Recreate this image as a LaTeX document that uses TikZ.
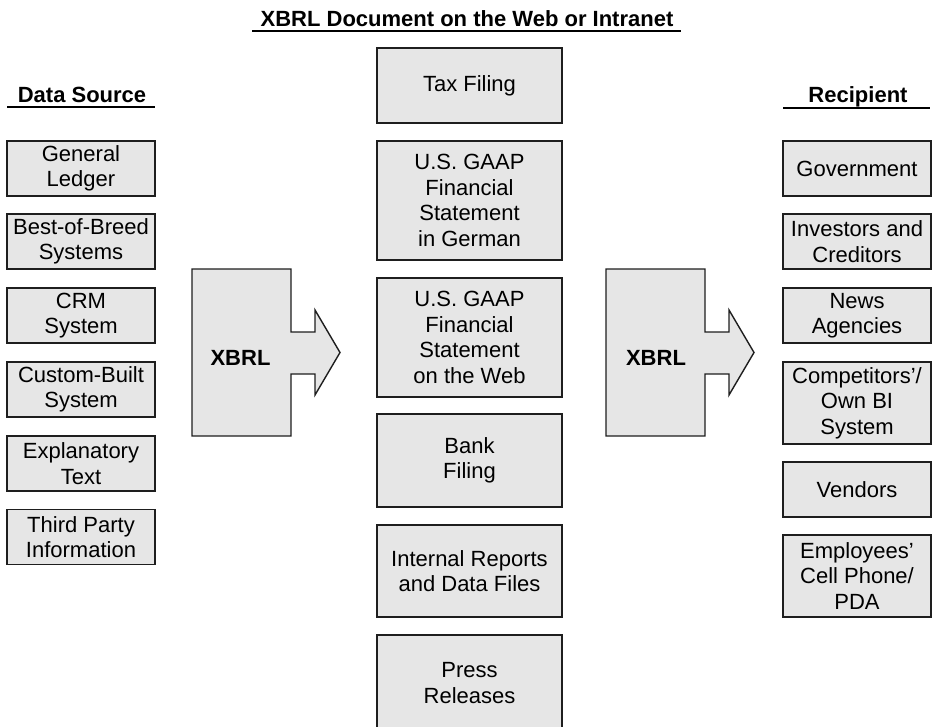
\documentclass[tikz,border=0pt]{standalone}
\usepackage{fontspec}
\setmainfont{Liberation Sans}
\definecolor{boxfill}{HTML}{E6E6E6}
\definecolor{edge}{HTML}{1E1E1E}
\begin{document}
\begin{tikzpicture}[x=1pt,y=-1pt,
  box/.style={draw=edge, fill=boxfill, line width=1.4pt, rectangle, inner sep=0pt,
    align=center, font=\fontsize{22}{25.5}\selectfont},
  side/.style={box, minimum width=148pt},
  mid/.style={box, minimum width=185pt},
  bigarrow/.style={draw=edge, fill=boxfill, line width=1.4pt, line join=miter},
  heading/.style={font=\bfseries\fontsize{22}{25}\selectfont, anchor=base, inner sep=0pt},
  rule/.style={line width=2pt}]
\useasboundingbox (0,0) rectangle (932,726);

% headings with their rules
\node[heading] (thead) at (467,26) {XBRL Document on the Web or Intranet};
\draw[rule] (252,31) -- (681,31);
\node[heading] (lhead) at (82,102) {Data Source};
\draw[rule] (7,107) -- (155,107);
\node[heading] (rhead) at (858,102) {Recipient};
\draw[rule] (783,107.5) -- (930,107.5);

% data sources
\node[side, minimum height=55pt] (gl)   at (81,168.5) {General\\Ledger};
\node[side, minimum height=55pt] (bob)  at (81,241.5) {Best-of-Breed\\Systems};
\node[side, minimum height=55pt] (crm)  at (81,315.5) {CRM\\System};
\node[side, minimum height=55pt] (cbs)  at (81,389.5) {Custom-Built\\System};
\node[side, minimum height=55pt] (expl) at (81,463.5) {Explanatory\\Text};
\node[side, minimum height=55pt] (tpi)  at (81,537)   {Third Party\\Information};

% documents
\node[mid, minimum height=75pt]  (tax)  at (469.5,85.5)  {Tax Filing};
\node[mid, minimum height=119pt] (ger)  at (469.5,200.5) {U.S. GAAP\\Financial\\Statement\\in German};
\node[mid, minimum height=119pt] (web)  at (469.5,337.5) {U.S. GAAP\\Financial\\Statement\\on the Web};
\node[mid, minimum height=93pt]  (bank) at (469.5,460.5) {Bank\\Filing};
\node[mid, minimum height=92pt]  (irep) at (469.5,571)   {Internal Reports\\and Data Files};
\node[mid, minimum height=96pt]  (pr)   at (469.5,683)   {Press\\Releases};

% recipients
\node[side, minimum height=55pt] (gov)  at (857,168.5) {Government};
\node[side, minimum height=55pt] (inv)  at (857,241.5) {Investors and\\Creditors};
\node[side, minimum height=55pt] (news) at (857,315.5) {News\\Agencies};
\node[side, minimum height=82pt] (comp) at (857,403)   {Competitors'/\\Own BI\\System};
\node[side, minimum height=55pt] (vend) at (857,489.5) {Vendors};
\node[side, minimum height=82pt] (emp)  at (857,576)   {Employees'\\Cell Phone/\\PDA};

% XBRL block arrows
\draw[bigarrow] (192,269) -- (291,269) -- (291,332) -- (315,332) -- (315,310)
  -- (340,352.5) -- (315,395) -- (315,374) -- (291,374) -- (291,436) -- (192,436) -- cycle;
\node[font=\bfseries\fontsize{22}{25}\selectfont, inner sep=0pt] (xl) at (240.5,358) {XBRL};
\draw[bigarrow] (606,269) -- (705,269) -- (705,332) -- (729,332) -- (729,310)
  -- (754,352.5) -- (729,395) -- (729,374) -- (705,374) -- (705,436) -- (606,436) -- cycle;
\node[font=\bfseries\fontsize{22}{25}\selectfont, inner sep=0pt] (xr) at (656,358) {XBRL};
\end{tikzpicture}
\end{document}
